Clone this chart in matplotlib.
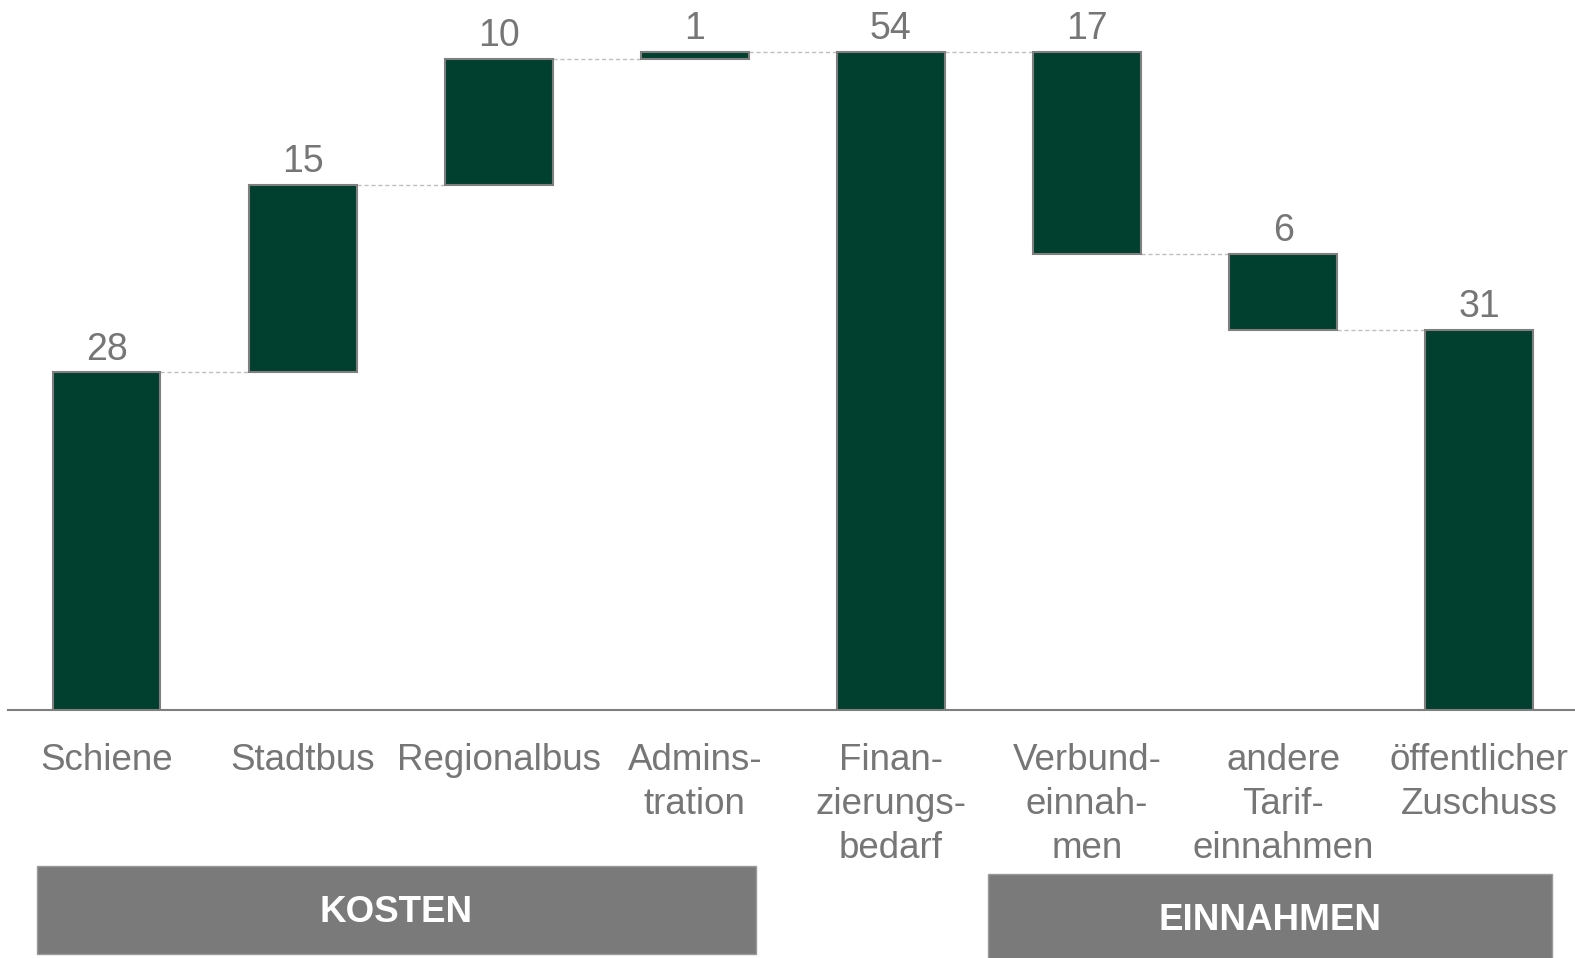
import matplotlib
matplotlib.use("Agg")
import matplotlib.pyplot as plt
from matplotlib.patches import Rectangle

plt.rcParams['font.family'] = ['Liberation Sans', 'DejaVu Sans']

categories = ["Schiene", "Stadtbus", "Regionalbus", "Admins-\ntration",
              "Finan-\nzierungs-\nbedarf", "Verbund-\neinnah-\nmen",
              "andere\nTarif-\neinnahmen", "öffentlicher\nZuschuss"]
values = [27.7, 15.4, 10.3, 0.6, 54, -16.6, -6.2, 31.2]
value_labels = ["28", "15", "10", "1", "54", "17", "6", "31"]
is_total = [False, False, False, False, True, False, False, True]
group_labels = ["KOSTEN", "EINNAHMEN"]

BAR = "#013F2E"
EDGE = "#7F7F7F"
TXT = "#767676"
BOX = "#7A7A7A"

W, H = 1575, 958
BASE = 710
PX_PER_UNIT = (710 - 52) / 54
X0, DX = 106.5, 196.1

fig = plt.figure(figsize=(W / 100, H / 100), dpi=100)
ax = fig.add_axes([8 / W, (H - BASE) / H, (W - 8) / W, BASE / H])

bottoms, tops, levels = [], [], []
running = 0
for v, t in zip(values, is_total):
    if t:
        b, top = 0, v
        running = v
    else:
        new = running + v
        b, top = min(running, new), max(running, new)
        running = new
    bottoms.append(b)
    tops.append(top)
    levels.append(running)

xs = list(range(len(values)))
bw = 0.55
ax.bar(xs, [t - b for t, b in zip(tops, bottoms)], bottom=bottoms, width=bw,
       color=BAR, edgecolor=EDGE, linewidth=1.5, zorder=3)

for i in range(len(values) - 1):
    ax.plot([i + bw / 2, i + 1 - bw / 2], [levels[i], levels[i]],
            color="#BFBFBF", linestyle=(0, (3, 2)), linewidth=1.0, zorder=2)

for i, (lab, t) in enumerate(zip(value_labels, tops)):
    ax.annotate(lab, xy=(i, t), xytext=(0, 3.5), textcoords="offset points",
                ha="center", va="bottom", fontsize=27, color=TXT)

for i, c in enumerate(categories):
    ax.annotate(c, xy=(i, 0), xytext=(0, -24), textcoords="offset points",
                ha="center", va="top", fontsize=26.5, color=TXT, linespacing=1.32,
                annotation_clip=False)

ax.set_xlim((8 - X0) / DX, (W - X0) / DX)
ax.set_ylim(0, BASE / PX_PER_UNIT)
for s in ["top", "right", "left"]:
    ax.spines[s].set_visible(False)
ax.spines["bottom"].set_color("#7F7F7F")
ax.spines["bottom"].set_linewidth(1.5)
ax.set_xticks([])
ax.set_yticks([])

boxes = [(37, 866, 756, 954), (988, 874, 1552, 962)]
text_y = [913, 921]
for (x0, y0, x1, y1), ty, lab in zip(boxes, text_y, group_labels):
    fig.add_artist(Rectangle((x0 / W, 1 - y1 / H), (x1 - x0) / W, (y1 - y0) / H,
                             transform=fig.transFigure, facecolor=BOX,
                             edgecolor="#9A9A9A", linewidth=1))
    fig.text((x0 + x1) / 2 / W, 1 - ty / H, lab, ha="center",
             va="center", fontsize=26.5, fontweight="bold", color="white")

fig.savefig("out.png", dpi=100)
